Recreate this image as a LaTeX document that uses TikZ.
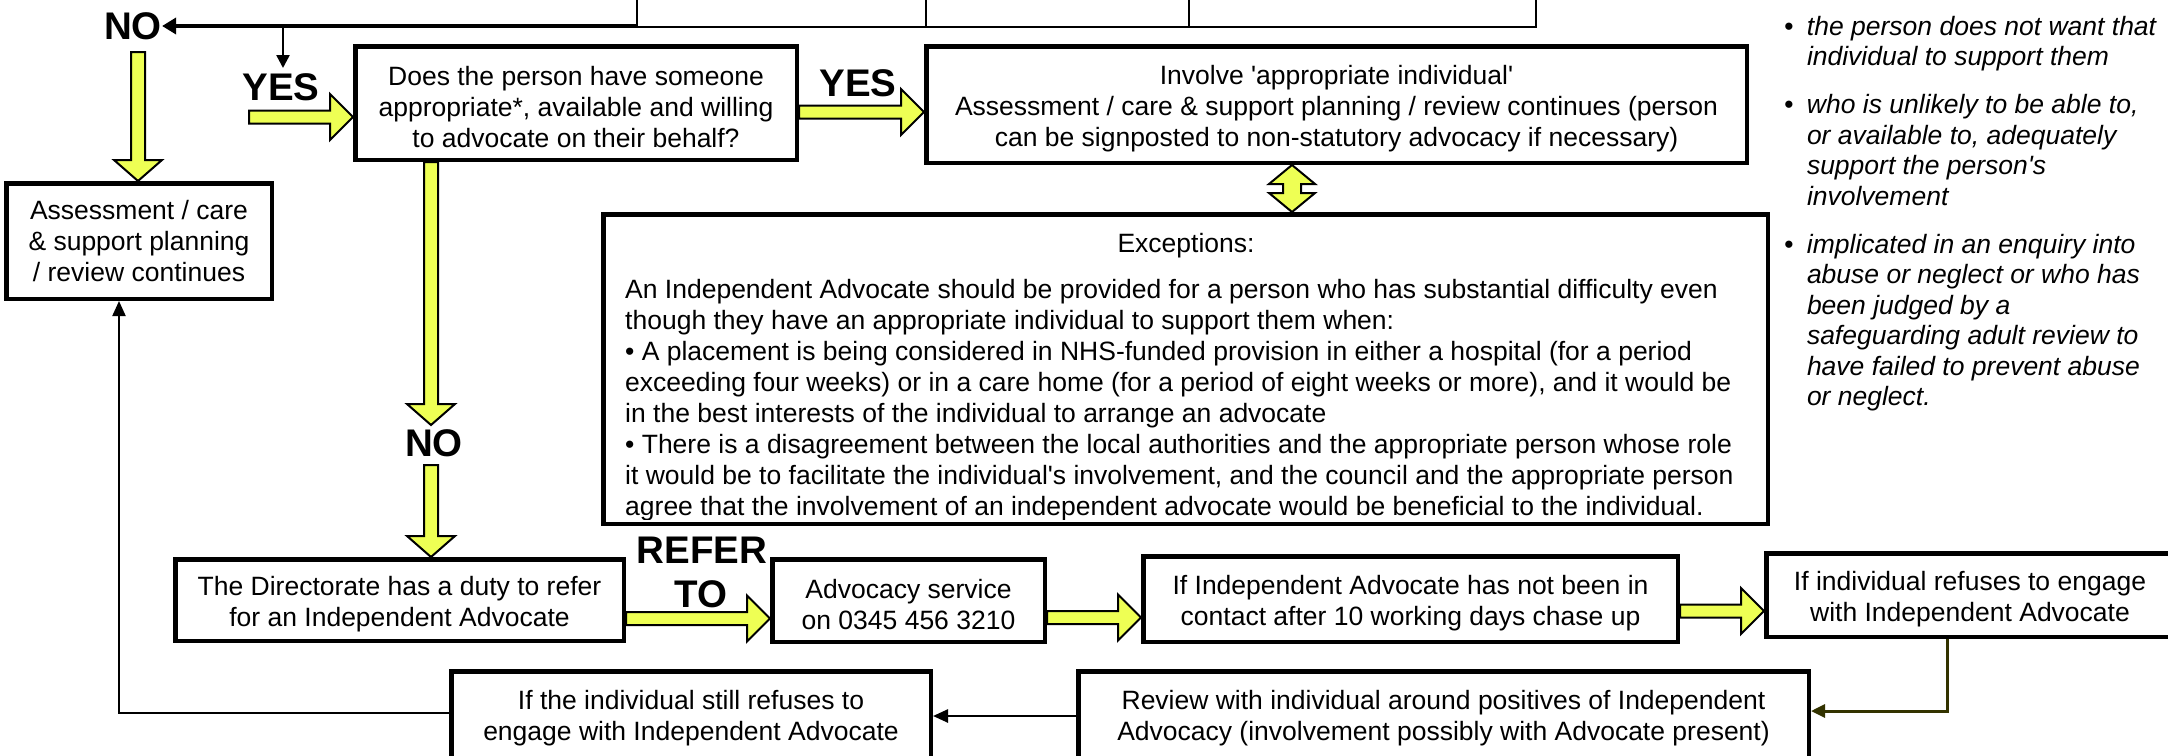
\documentclass[tikz,border=0pt]{standalone}
\usepackage{fontspec}
\setmainfont{Liberation Sans}[Ligatures=TeXOff]
\usetikzlibrary{arrows.meta,calc}
\definecolor{ayel}{RGB}{238,255,84}
\definecolor{olivel}{RGB}{51,51,0}
\pgfdeclarelayer{swl}
\pgfdeclarelayer{arl}
\pgfsetlayers{swl,arl,main}
\newcommand\ts{\rule{0pt}{27pt}}
% horizontal block arrow (pointing right)
\newcommand\hblock[2]{\path[yarrow] let \p1=(#1), \p2=(#2) in
  (\x1,\y1+6.5pt) -- (\x2-23pt,\y1+6.5pt) -- (\x2-23pt,\y1+23pt) -- (\x2,\y1)
  -- (\x2-23pt,\y1-23pt) -- (\x2-23pt,\y1-6.5pt) -- (\x1,\y1-6.5pt) -- cycle;}
% vertical block arrow (pointing down)
\newcommand\vblock[2]{\path[yarrow] let \p1=(#1), \p2=(#2) in
  (\x1-7pt,\y1) -- (\x1-7pt,\y2+21pt) -- (\x1-24pt,\y2+21pt) -- (\x1,\y2)
  -- (\x1+24pt,\y2+21pt) -- (\x1+7pt,\y2+21pt) -- (\x1+7pt,\y1) -- cycle;}
% vertical double block arrow
\newcommand\dblock[2]{\path[yarrow] let \p1=(#1), \p2=(#2) in
  (\x1,\y1) -- (\x1+23pt,\y1-19pt) -- (\x1+9pt,\y1-19pt) -- (\x1+9pt,\y2+19pt)
  -- (\x1+23pt,\y2+19pt) -- (\x1,\y2) -- (\x1-23pt,\y2+19pt) -- (\x1-9pt,\y2+19pt)
  -- (\x1-9pt,\y1-19pt) -- (\x1-23pt,\y1-19pt) -- cycle;}
\begin{document}
\begin{tikzpicture}[x=1pt,y=-1pt,
  box/.style={draw, line width=4.5pt, fill=white, align=center, inner sep=0pt,
    font=\fontsize{26.5}{31}\selectfont},
  lbl/.style={inner sep=0pt, font=\fontsize{38.5}{40}\selectfont\bfseries},
  yarrow/.style={fill=ayel, draw=black, line width=2pt, line join=miter},
  conn/.style={draw=black, line width=2pt, -{Triangle[length=15pt,width=13pt]}},
  thinline/.style={draw=black, line width=2pt},
]
\useasboundingbox (0,0) rectangle (2168,755);
\begin{pgfonlayer}{swl}
  \fill[white] (0,0) rectangle (2168,755);
\end{pgfonlayer}

% cut-off boxes at the top
\node[thinline, minimum width=899pt, minimum height=100pt, inner sep=0pt,
  anchor=south west] (top) at (636,27.5) {};
\draw[thinline] (926,27.5) -- (926,0);
\draw[thinline] (1189,27.5) -- (1189,0);

% main boxes
\node[box, minimum width=441.5pt, minimum height=113.5pt] (q) at (576,103)
  {\ts Does the person have someone\\appropriate*, available and willing\\to advocate on their behalf?};
\node[box, minimum width=820.5pt, minimum height=116.5pt] (inv) at (1336.5,104.5)
  {\ts Involve 'appropriate individual'\\Assessment / care \& support planning / review continues (person\\can be signposted to non-statutory advocacy if necessary)};
\node[box, minimum width=1164.5pt, minimum height=309.5pt] (exc) at (1185.5,369) {};
\node[box, minimum width=265.5pt, minimum height=115.5pt] (asm) at (139,241)
  {Assessment / care\\\& support planning\\/ review continues};
\node[box, minimum width=448.5pt, minimum height=81.5pt] (dir) at (399.5,600)
  {\ts The Directorate has a duty to refer\\for an Independent Advocate};
\node[box, minimum width=272.5pt, minimum height=82.5pt] (adv) at (908.5,600.5)
  {\ts Advocacy service\\on 0345 456 3210};
\node[box, minimum width=534.5pt, minimum height=85.5pt] (chs) at (1410.5,599)
  {\ts If Independent Advocate has not been in\\contact after 10 working days chase up};
\node[box, minimum width=407.5pt, minimum height=83.5pt] (ref) at (1970,595)
  {\ts If individual refuses to engage\\with Independent Advocate};
\node[box, minimum width=730.5pt, minimum height=90.5pt] (rev) at (1443.5,716.5)
  {\rule{0pt}{23pt}Review with individual around positives of Independent\\Advocacy (involvement possibly with Advocate present)};
\node[box, minimum width=479.5pt, minimum height=90.5pt] (stl) at (691,716.5)
  {\rule{0pt}{23pt}If the individual still refuses to\\engage with Independent Advocate};

% exceptions text
\node[anchor=base, inner sep=0pt, font=\fontsize{26.5}{31}\selectfont] (exchead) at (1186,252) {Exceptions:};
\begin{scope}
  \clip (601,212) rectangle (1770,519);
  \node[anchor=north west, inner sep=0pt, font=\fontsize{26.5}{31}\selectfont] (excbody) at (625,276.3)
  {\begin{tabular}{@{}l@{}}
  An Independent Advocate should be provided for a person who has substantial difficulty even\\
  though they have an appropriate individual to support them when:\\
  \textbullet\ A placement is being considered in NHS-funded provision in either a hospital (for a period\\
  exceeding four weeks) or in a care home (for a period of eight weeks or more), and it would be\\
  in the best interests of the individual to arrange an advocate\\
  \textbullet\ There is a disagreement between the local authorities and the appropriate person whose role\\
  it would be to facilitate the individual's involvement, and the council and the appropriate person\\
  agree that the involvement of an independent advocate would be beneficial to the individual.
  \end{tabular}};
\end{scope}

% side notes
\node[anchor=north west, inner sep=0pt, font=\fontsize{26.5}{30.5}\selectfont\itshape] (side) at (1784,13.6)
  {\begin{tabular}{@{}l@{\hspace{13.5pt}}l@{}}
  \textbullet & the person does not want that\\
   & individual to support them\\[17.5pt]
  \textbullet & who is unlikely to be able to,\\
   & or available to, adequately\\
   & support the person's\\
   & involvement\\[17.5pt]
  \textbullet & implicated in an enquiry into\\
   & abuse or neglect or who has\\
   & been judged by a\\
   & safeguarding adult review to\\
   & have failed to prevent abuse\\
   & or neglect.
  \end{tabular}};

% labels
\node[lbl] (no1) at (133,26) {NO};
\node[lbl] (yes1) at (281,87) {YES};
\node[lbl] (yes2) at (858,83) {YES};
\node[lbl] (no2) at (434,443) {NO};
\node[lbl] (refer) at (702,550) {REFER};
\node[lbl] (to) at (701,594) {TO};

% named free ends
\coordinate (j1) at (283,26);
\coordinate (y1s) at (249,117);
\coordinate (v1s) at (138,52);
\coordinate (v2e) at (431,425);
\coordinate (v3s) at (431,465);

\begin{pgfonlayer}{arl}
  % NO arrow and YES arrow from the top
  \draw[line width=4pt, -{Triangle[length=14pt,width=16pt]}] (top.south west |- j1) -- (no1.east);
  \draw[line width=2.5pt, -{Triangle[length=13pt,width=13pt]}] (j1) -- (j1 |- 0,68);
  % yellow block arrows
  \hblock{y1s}{q.west |- y1s}
  \hblock{q.east |- 0,112}{inv.west |- 0,112}
  \hblock{dir.east |- 0,618.5}{adv.west |- 0,618.5}
  \hblock{adv.east |- 0,617.5}{chs.west |- 0,617.5}
  \hblock{chs.east |- 0,611}{ref.west |- 0,611}
  \vblock{v1s}{asm.north -| v1s}
  \vblock{q.south -| v2e}{v2e}
  \vblock{v3s}{dir.north -| v3s}
  \dblock{inv.south -| 1292,0}{exc.north -| 1292,0}
  % thin connectors
  \draw[olivel, line width=3pt, -{Triangle[length=14pt,width=13pt]}] (ref.south -| 1947,0) |- (rev.east |- 0,711);
  \draw[conn, line width=2.5pt] (rev.west |- 0,716) -- (stl.east |- 0,716);
  \draw[conn] (stl.west |- 0,713) -| (asm.south -| 119,0);
\end{pgfonlayer}
\end{tikzpicture}
\end{document}
